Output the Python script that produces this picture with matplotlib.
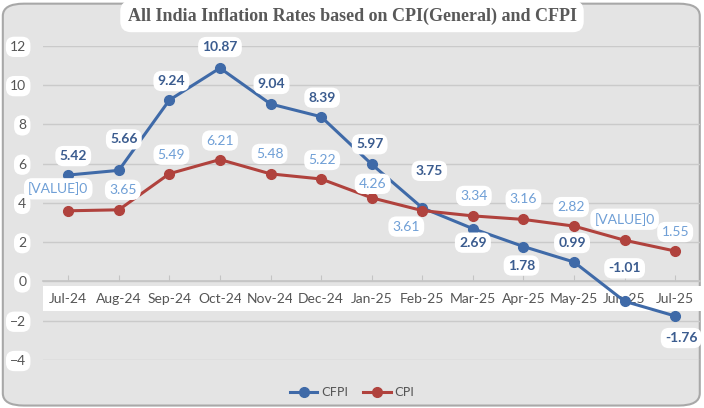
import matplotlib.pyplot as plt
from matplotlib.patches import FancyBboxPatch

# Datos
meses = ['Jul-24', 'Aug-24', 'Sep-24', 'Oct-24', 'Nov-24', 'Dec-24', 'Jan-25',
         'Feb-25', 'Mar-25', 'Apr-25', 'May-25', 'Jun-25', 'Jul-25']
cfpi = [5.42, 5.66, 9.24, 10.87, 9.04, 8.39, 5.97, 3.75, 2.69, 1.78, 0.99, -1.01, -1.76]
cpi = [3.60, 3.65, 5.49, 6.21, 5.48, 5.22, 4.26, 3.61, 3.34, 3.16, 2.82, 2.10, 1.55]
# etiquetas tal como salen en el grafico original (dos quedaron como [VALUE]0)
cpi_textos = ['[VALUE]0', '3.65', '5.49', '6.21', '5.48', '5.22', '4.26',
              '3.61', '3.34', '3.16', '2.82', '[VALUE]0', '1.55']
yticks = [12, 10, 8, 6, 4, 2, 0, -2, -4]

# desplazamientos de las etiquetas (pixeles)
off_cfpi = [(5, 19), (5, 31), (2, 19), (0, 21), (1, 20), (1, 19), (-2, 20),
            (7, 37), (0, -14), (-2, -19), (-2, 19), (0, 33), (6, -22)]
off_cpi = [(-10, 22), (4, 20), (2, 19), (0, 19), (-1, 20), (1, 19), (1, 14),
           (-16, -16), (1, 20), (0, 20), (-3, 19), (0, 21), (0, 19)]

fondo = '#e4e4e4'
azul = '#3f6aa8'
rojo = '#b0423d'

fig = plt.figure(figsize=(7.04, 4.08), dpi=100)
fig.patch.set_facecolor('white')
fig.patches.append(FancyBboxPatch((0.004, 0.006), 0.99, 0.985, boxstyle='round,pad=0,rounding_size=0.03',
                                  transform=fig.transFigure, facecolor=fondo,
                                  edgecolor='#a8a8a8', linewidth=1.5, zorder=-10))
ax = fig.add_axes([0.061, 0.1176, 0.934, 0.770])
ax.set_facecolor('none')

x = list(range(len(meses)))
ax.plot(x, cfpi, color=azul, lw=2.2, marker='o', ms=7, label='CFPI', zorder=3)
ax.plot(x, cpi, color=rojo, lw=2.2, marker='o', ms=7, label='CPI', zorder=3)

caja = dict(boxstyle='round,pad=0.3,rounding_size=0.6', fc='white', ec='none')
for i in x:
    ax.annotate(f'{cfpi[i]:.2f}', (i, cfpi[i]), xytext=off_cfpi[i], textcoords='offset pixels',
                ha='center', va='center', fontsize=10, fontweight='bold', color='#3b5c8f',
                family='Lato', bbox=caja, zorder=5)
    ax.annotate(cpi_textos[i], (i, cpi[i]), xytext=off_cpi[i], textcoords='offset pixels',
                ha='center', va='center', fontsize=10, color='#6f9fd6',
                family='Lato', bbox=caja, zorder=5)

ax.set_xlim(-0.5, 12.5)
ax.set_ylim(-4, 12)
ax.set_yticks(yticks)
ax.set_xticks(x)
ax.set_xticklabels(meses)
ax.grid(axis='y', color='#cacaca', lw=1)
ax.set_axisbelow(True)
for s in ['top', 'right', 'left']:
    ax.spines[s].set_visible(False)
ax.spines['bottom'].set_position(('data', 0))
ax.spines['bottom'].set_color('#c4c4c4')
ax.spines['bottom'].set_linewidth(1.2)
ax.tick_params(axis='y', length=0, pad=12, labelsize=10, labelcolor='#555555')
ax.tick_params(axis='x', direction='in', length=4, color='#c4c4c4', pad=8,
               labelsize=10, labelcolor='#555555')
for t in ax.get_yticklabels():
    t.set_family('Lato')
    t.set_bbox(dict(boxstyle='round,pad=0.3,rounding_size=0.6', fc='white', ec='none'))
for t in ax.get_xticklabels():
    t.set_family('Lato')
    t.set_bbox(dict(boxstyle='square,pad=0.45', fc='white', ec='none'))

fig.text(0.5, 0.96, 'All India Inflation Rates based on CPI(General) and CFPI',
         ha='center', va='center', fontsize=13, fontweight='bold', color='#595959',
         family='Liberation Serif',
         bbox=dict(boxstyle='round,pad=0.4,rounding_size=0.6', fc='white', ec='none'))

leg = fig.legend(loc='center', bbox_to_anchor=(0.5, 0.037), ncol=2, frameon=False,
                 fontsize=9, handlelength=2.2, columnspacing=1.2, handletextpad=0.3)
for t in leg.get_texts():
    t.set_color('#555555')

fig.savefig('out.png', dpi=100, facecolor=fig.get_facecolor())
